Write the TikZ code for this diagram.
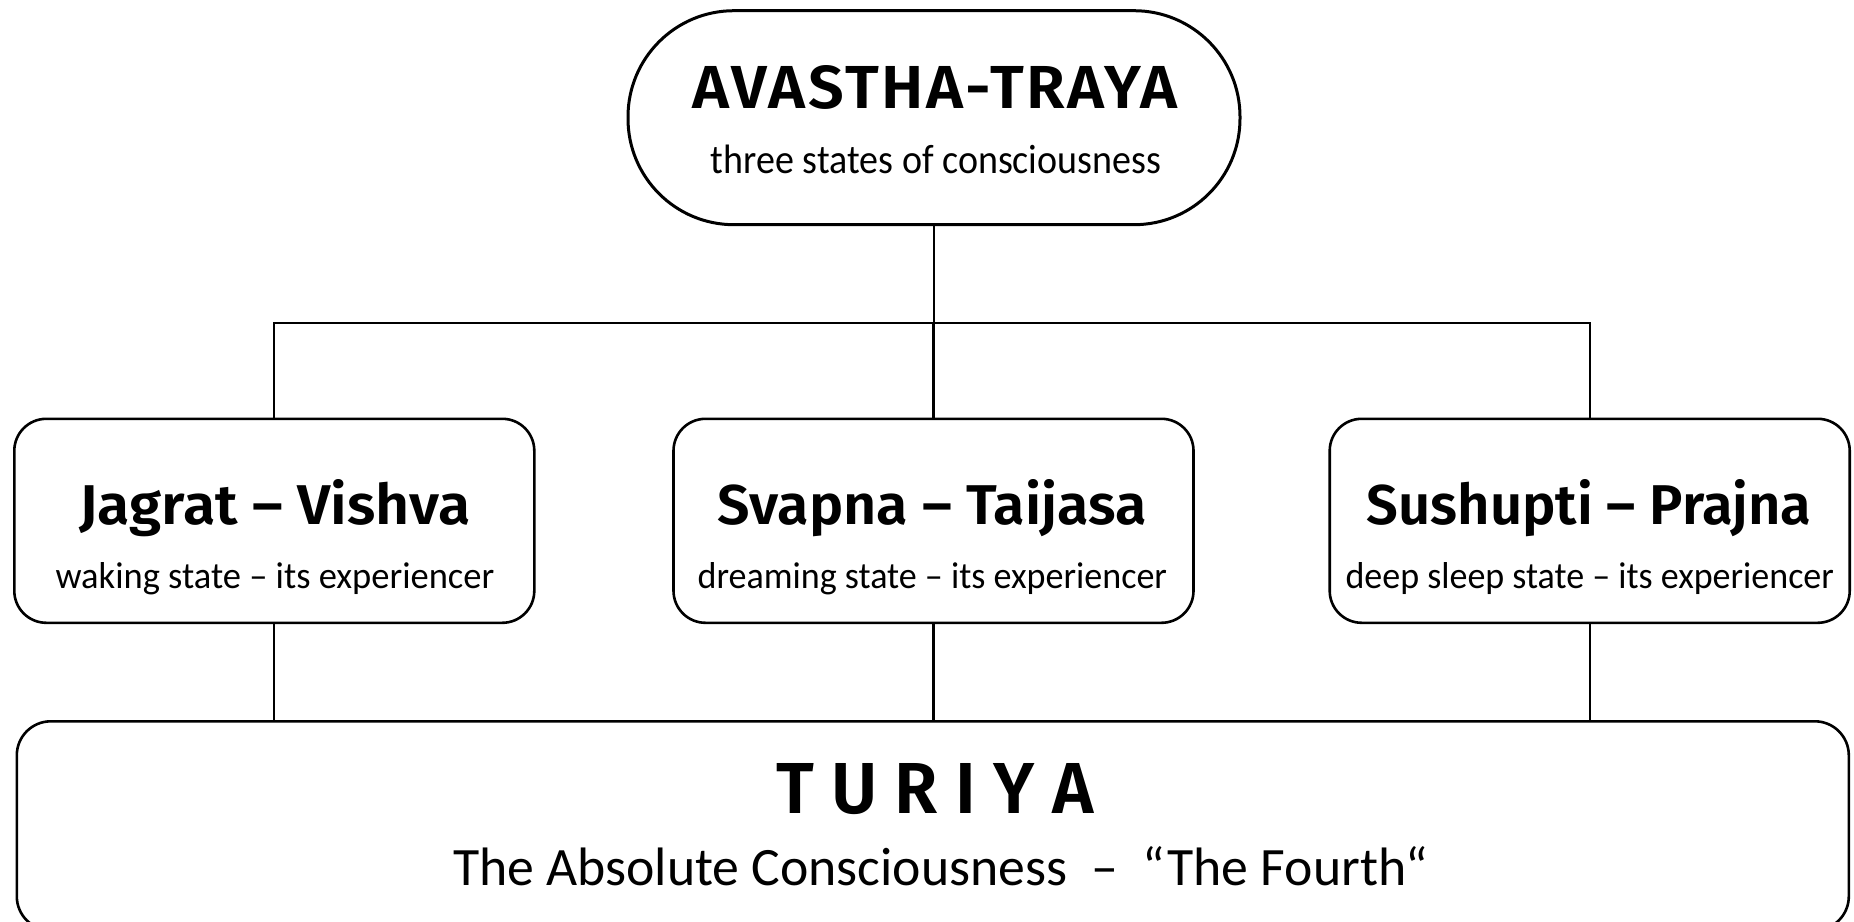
\documentclass[tikz,border=0pt]{standalone}
\usepackage{fontspec}
\usepackage{graphicx}
\newfontfamily\titlefont{Fira Sans SemiBold}
\newfontfamily\titlefontsp{Fira Sans SemiBold}[LetterSpace=4]
\newfontfamily\subfont{Carlito}
\newcommand{\fitbox}[3]{\resizebox{#1pt}{#2pt}{#3}}
\begin{document}
\begin{tikzpicture}[x=1pt,y=-1pt,
  boxline/.style={draw=black, fill=white, inner sep=0pt},
  topbox/.style={boxline, line width=3pt, rounded corners=106pt, minimum width=612pt, minimum height=214pt},
  midbox/.style={boxline, line width=2.6pt, rounded corners=32pt, minimum width=520pt, minimum height=204pt},
  botbox/.style={boxline, line width=2.6pt, rounded corners=34pt, minimum width=1832pt, minimum height=209pt},
  txt/.style={inner sep=0pt, anchor=base},
  conn/.style={draw=black, line width=2.2pt}
]
\clip (0,0) rectangle (1854,921);
\fill[white] (0,0) rectangle (1854,921);

% boxes
\node[topbox] (top) at (934,117.7) {};
\node[midbox] (jag) at (274.3,520.8) {};
\node[midbox] (svp) at (933.5,520.8) {};
\node[midbox] (sus) at (1589.7,520.8) {};
\node[botbox] (tur) at (932.8,825.8) {};

% connectors
\coordinate (bus) at (934,322.8);
\draw[conn] (top.south) -- (bus);
\draw[conn] (jag.north) |- (bus) -| (sus.north);
\draw[conn] (svp.north) -- (svp.north |- bus);
\draw[conn] (jag.south) -- (jag.south |- tur.north);
\draw[conn] (svp.south) -- (svp.south |- tur.north);
\draw[conn] (sus.south) -- (sus.south |- tur.north);

% texts
\node[txt] (toptitle) at (935,108) {\fitbox{484}{43}{\titlefontsp AVASTHA-TRAYA}};
\node[txt] (topsub) at (936,173) {\fitbox{450}{28.5}{\subfont three states of consciousness}};

\node[txt] (jagtitle) at (274.9,524) {\fitbox{391}{45}{\titlefont Jagrat – Vishva}};
\node[txt] (svptitle) at (932.3,524) {\fitbox{429}{45}{\titlefont Svapna – Taijasa}};
\node[txt] (sustitle) at (1589.1,524) {\fitbox{444.6}{45}{\titlefont Sushupti – Prajna}};

\node[txt] (jagsub) at (274.9,588) {\fitbox{438.7}{26}{\subfont waking state – its experiencer}};
\node[txt] (svpsub) at (932.3,588) {\fitbox{469.4}{26}{\subfont dreaming state – its experiencer}};
\node[txt] (sussub) at (1589.7,588) {\fitbox{488.3}{26}{\subfont deep sleep state – its experiencer}};

\node[txt] (turtitle) at (935,813) {\fitbox{317}{50}{\titlefont T U R I Y A}};
\node[txt] (tursub) at (940.6,885) {\fitbox{975}{39}{\subfont The Absolute Consciousness\ \ –\ \ “The Fourth“}};
\end{tikzpicture}
\end{document}
